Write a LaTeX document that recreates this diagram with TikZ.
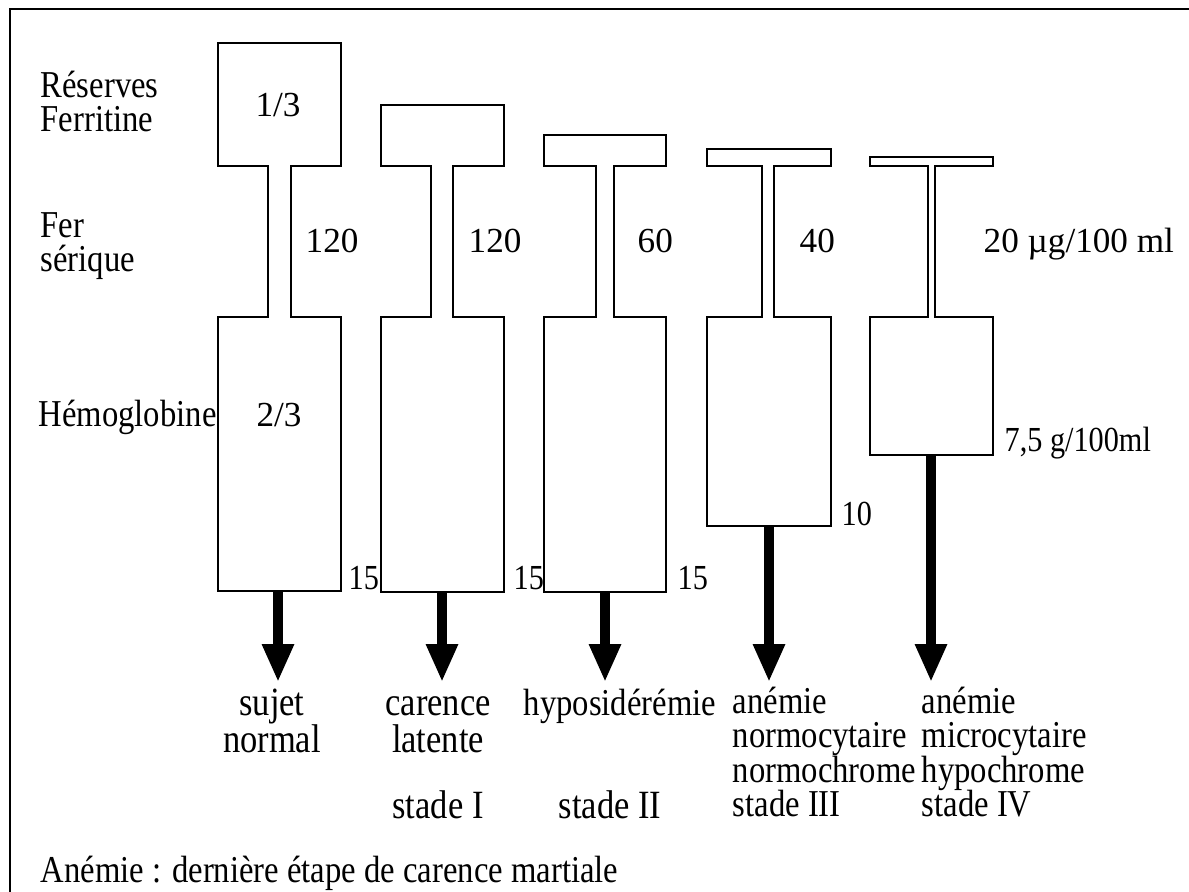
\documentclass[tikz,border=0pt]{standalone}
\usepackage{fontspec}
\setmainfont{Liberation Serif}[FakeStretch=0.86]
\newfontfamily\chiffres{Liberation Serif}
\usetikzlibrary{arrows.meta}
\newcommand\serre{\lineskiplimit=-10pt\relax}
\newcommand\haut{\rule{0pt}{8pt}}

\begin{document}
\begin{tikzpicture}[x=0.01cm,y=-0.01cm]
\tikzstyle{fleche}=[-{Triangle[length=10.8pt,width=8.5pt]},line width=2.6pt]
\tikzset{contour/.style={draw,line width=0.7pt},
texte/.style={inner sep=0pt,font=\fontsize{10.8}{9.7}\selectfont\serre},
grand/.style={inner sep=0pt,font=\fontsize{11.4}{10.3}\selectfont\serre},
petit/.style={inner sep=0pt,font=\fontsize{10}{12}\selectfont},
chiffre/.style={inner sep=0pt,font=\chiffres\fontsize{10}{12}\selectfont}}
\useasboundingbox (0,0) rectangle (1189,892);
\draw[line width=0.8pt] (10,9) rectangle (1200,900);

% les cinq stades
\draw[contour] (218,43) -- (341,43) -- (341,166) -- (291,166) -- (291,317) -- (341,317) -- (341,591) -- (218,591) -- (218,317) -- (268,317) -- (268,166) -- (218,166) -- cycle;
\draw[contour] (381,105) -- (504,105) -- (504,166) -- (453,166) -- (453,317) -- (504,317) -- (504,592) -- (381,592) -- (381,317) -- (431,317) -- (431,166) -- (381,166) -- cycle;
\draw[contour] (544,135) -- (666,135) -- (666,166) -- (614,166) -- (614,317) -- (666,317) -- (666,592) -- (544,592) -- (544,317) -- (596,317) -- (596,166) -- (544,166) -- cycle;
\draw[contour] (707,149) -- (831,149) -- (831,166) -- (774,166) -- (774,317) -- (831,317) -- (831,526) -- (707,526) -- (707,317) -- (762,317) -- (762,166) -- (707,166) -- cycle;
\draw[contour] (870,157) -- (993,157) -- (993,166) -- (935,166) -- (935,317) -- (993,317) -- (993,455) -- (870,455) -- (870,317) -- (928,317) -- (928,166) -- (870,166) -- cycle;

% legendes a gauche
\node[texte,anchor=north west,align=left] (reserves) at (40,69) {\haut Réserves\\Ferritine};
\node[texte,anchor=north west,align=left] (fer) at (40,209) {\haut Fer\\sérique};
\node[texte,anchor=base west] (hemo) at (38,427) {Hémoglobine};

% valeurs
\node[chiffre,anchor=base] (r1) at (278,117) {1/3};
\node[chiffre,anchor=base] (h1) at (279,427) {2/3};
\node[chiffre,anchor=base west] (f1) at (305,253) {120};
\node[chiffre,anchor=base west] (f2) at (468,253) {120};
\node[chiffre,anchor=base west] (f3) at (637,253) {60};
\node[chiffre,anchor=base west] (f4) at (799,253) {40};
\node[chiffre,anchor=base west] (f5) at (983,253) {20 µg/100 ml};
\node[petit,anchor=base west] (hb1) at (348,590) {15};
\node[petit,anchor=base west] (hb2) at (513,590) {15};
\node[petit,anchor=base west] (hb3) at (677,590) {15};
\node[petit,anchor=base west] (hb4) at (841,525) {10};
\node[petit,anchor=base west] (hb5) at (1004,452) {7,5 g/100ml};

% fleches
\coordinate (b1) at (278,591); \coordinate (p1) at (278,682);
\coordinate (b2) at (442,592); \coordinate (p2) at (442,682);
\coordinate (b3) at (605,592); \coordinate (p3) at (605,682);
\coordinate (b4) at (769,526); \coordinate (p4) at (769,682);
\coordinate (b5) at (931,455); \coordinate (p5) at (931,682);
\draw[fleche] (b1) -- (p1);
\draw[fleche] (b2) -- (p2);
\draw[fleche] (b3) -- (p3);
\draw[fleche] (b4) -- (p4);
\draw[fleche] (b5) -- (p5);

% stades
\node[grand,anchor=north,align=center] (l1) at (272,687) {\haut sujet\\normal};
\node[grand,anchor=north,align=center] (l2) at (438,687) {\haut carence\\latente};
\node[texte,anchor=base west] (l3) at (523,715) {hyposidérémie};
\node[texte,anchor=north west,align=left] (l4) at (732,685) {\haut anémie\\normocytaire\\normochrome\\stade III};
\node[texte,anchor=north west,align=left] (l5) at (921,685) {\haut anémie\\microcytaire\\hypochrome\\stade IV};
\node[grand,anchor=base] (st1) at (438,818) {stade I};
\node[grand,anchor=base] (st2) at (610,818) {stade II};

\node[texte,anchor=base west] (legende) at (40,882) {Anémie : dernière étape de carence martiale};
\end{tikzpicture}
\end{document}
